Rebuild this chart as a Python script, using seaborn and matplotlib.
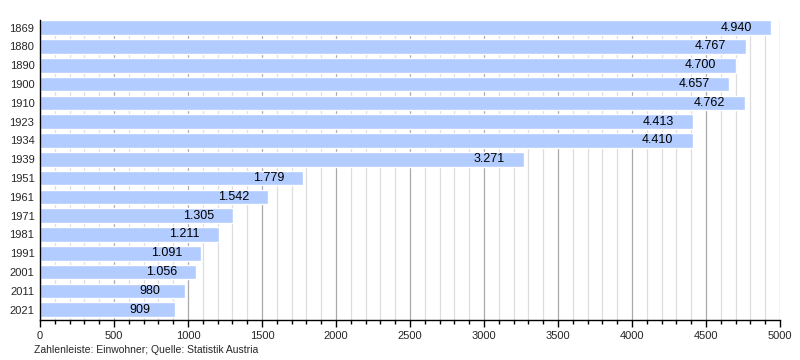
import pandas as pd
import seaborn as sns
import matplotlib.pyplot as plt
from matplotlib.ticker import MultipleLocator

years = ["1869", "1880", "1890", "1900", "1910", "1923", "1934", "1939",
         "1951", "1961", "1971", "1981", "1991", "2001", "2011", "2021"]
population = [4940, 4767, 4700, 4657, 4762, 4413, 4410, 3271,
              1779, 1542, 1305, 1211, 1091, 1056, 980, 909]

df = pd.DataFrame({"Jahr": years, "Einwohner": population})

sns.set_style("white")
plt.rcParams["font.family"] = ["Liberation Sans", "DejaVu Sans"]

fig = plt.figure(figsize=(8, 3.6), dpi=100)
ax = fig.add_axes([0.05, 0.111, 0.925, 0.833])

# grid first, bars on top
ax.set_axisbelow(True)
sns.barplot(data=df, x="Einwohner", y="Jahr", orient="h", color="#b3ccff",
            saturation=1, width=0.78, ax=ax, zorder=2)

ax.set_xlim(0, 5000)
ax.set_ylim(15.55, -0.4)
ax.xaxis.set_major_locator(MultipleLocator(500))
ax.xaxis.set_minor_locator(MultipleLocator(100))
ax.grid(axis="x", which="major", color="#aaaaaa", linewidth=0.9, zorder=0)
ax.grid(axis="x", which="minor", color="#dddddd", linewidth=0.9, zorder=0)
ax.grid(axis="y", visible=False)

ax.tick_params(axis="x", which="major", direction="out", length=5, width=1,
               color="black", labelsize=8, pad=3, bottom=True)
ax.tick_params(axis="x", which="minor", direction="out", length=3, width=1,
               color="black", bottom=True)
ax.tick_params(axis="y", length=0, labelsize=8, pad=4)

for s in ["top", "right"]:
    ax.spines[s].set_visible(False)
for s in ["left", "bottom"]:
    ax.spines[s].set_color("black")
    ax.spines[s].set_linewidth(1)

ax.set_xlabel("")
ax.set_ylabel("")

for i, v in enumerate(population):
    label = f"{v:,}".replace(",", ".")
    ax.annotate(label, xy=(v, i), xytext=(-35, 0), textcoords="offset pixels",
                ha="center", va="center", fontsize=9, color="black", zorder=3)

fig.text(0.043, 0.027, "Zahlenleiste: Einwohner; Quelle: Statistik Austria",
         fontsize=7.5, ha="left", va="center")

fig.savefig("out.png", dpi=100)
